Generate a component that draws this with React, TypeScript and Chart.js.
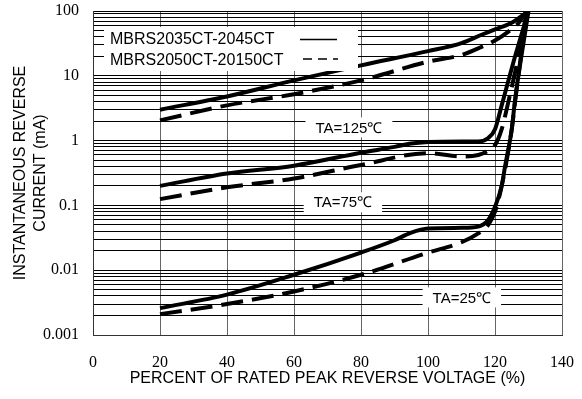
import { useEffect, useRef } from 'react';
import { Chart, registerables } from 'chart.js';

Chart.register(...registerables);

// ---- data ----
const xTicks = [0, 20, 40, 60, 80, 100, 120, 140];
const yDecades = [0.001, 0.01, 0.1, 1, 10, 100];
const yDecadeLabels = ['0.001', '0.01', '0.1', '1', '10', '100'];
const seriesNames = ['MBRS2035CT-2045CT', 'MBRS2050CT-20150CT'];
const tempLabels = ['TA=125℃', 'TA=75℃', 'TA=25℃'];
// label anchor in data coordinates (x %, y mA)
const tempLabelX = [76.4, 74.6, 110.1];
const tempLabelY = [1.6, 0.112, 0.0038];

// TA = 125 °C
const t125SolidX = [20, 40, 60, 80, 100, 110, 116, 120, 125, 130];
const t125SolidY = [3, 4.8, 8.5, 14.5, 24, 32, 43, 52, 66, 100];
const t125DashX = [20, 40, 60, 80, 100, 110, 116, 120, 124, 127, 129.5];
const t125DashY = [2.05, 3.5, 5.2, 8.5, 16.5, 21, 28, 35, 48, 65, 100];
// TA = 75 °C
const t75SolidX = [20, 40, 60, 80, 90, 95, 100, 110, 115, 118, 120, 122, 126, 130];
const t75SolidY = [0.2, 0.31, 0.41, 0.65, 0.8, 0.9, 0.95, 0.97, 0.97, 1.1, 1.5, 3.5, 20, 100];
const t75DashX = [20, 40, 60, 80, 100, 110, 115, 118, 120, 122, 124, 127, 129.5];
const t75DashY = [0.125, 0.19, 0.26, 0.42, 0.64, 0.57, 0.6, 0.7, 0.85, 1.5, 4, 20, 100];
// TA = 25 °C
const t25SolidX = [20, 40, 60, 80, 90, 95, 100, 110, 115, 118, 120, 122, 123, 125, 126, 130];
const t25SolidY = [0.0026, 0.0042, 0.0085, 0.0187, 0.029, 0.038, 0.044, 0.045, 0.047, 0.06, 0.095, 0.2, 0.4, 1.5, 4.3, 100];
const t25DashX = [20, 40, 60, 80, 100, 110, 115, 118, 120, 122, 125, 126, 129.5];
const t25DashY = [0.0021, 0.003, 0.0047, 0.0085, 0.0187, 0.027, 0.037, 0.05, 0.08, 0.2, 1.5, 4, 100];

const SANS = '"Liberation Sans", Arial, Helvetica, sans-serif';
const SERIF = '"Liberation Serif", "Times New Roman", serif';

const pts = (xs: number[], ys: number[]) => xs.map((x, i) => ({ x, y: ys[i] }));

const solid = (xs: number[], ys: number[]) => ({
  data: pts(xs, ys),
  borderColor: '#000',
  borderWidth: 4,
  pointRadius: 0,
  fill: false,
  cubicInterpolationMode: 'monotone' as const,
  borderCapStyle: 'butt' as const,
});
const dashed = (xs: number[], ys: number[]) => ({
  ...solid(xs, ys),
  borderDash: [22, 9],
});

const zeroPad = (s: any) => {
  s.paddingTop = 0;
  s.paddingBottom = 0;
  s.paddingLeft = 0;
  s.paddingRight = 0;
};

const overlayPlugin = {
  id: 'overlay',
  afterDatasetsDraw(chart: any) {
    const { ctx, chartArea, scales } = chart;
    const xs = scales.x;
    const ys = scales.y;
    ctx.save();
    // legend box
    const lx = chartArea.left + 11;
    const ly = chartArea.top + 16;
    ctx.fillStyle = '#fff';
    ctx.fillRect(lx, ly, 254, 44);
    ctx.fillStyle = '#000';
    ctx.font = `16px ${SANS}`;
    ctx.textBaseline = 'middle';
    ctx.textAlign = 'left';
    ctx.fillText(seriesNames[0], lx + 6, ly + 12.5);
    ctx.fillText(seriesNames[1], lx + 6, ly + 34);
    ctx.strokeStyle = '#000';
    ctx.lineWidth = 1.5;
    ctx.beginPath();
    ctx.moveTo(lx + 196, ly + 12.5);
    ctx.lineTo(lx + 233, ly + 12.5);
    ctx.stroke();
    ctx.setLineDash([9, 6]);
    ctx.beginPath();
    ctx.moveTo(lx + 199, ly + 32);
    ctx.lineTo(lx + 234, ly + 32);
    ctx.stroke();
    ctx.setLineDash([]);

    // temperature labels
    ctx.font = `15px ${SANS}`;
    ctx.textAlign = 'center';
    tempLabels.forEach((t, i) => {
      const cx = xs.getPixelForValue(tempLabelX[i]);
      const cy = ys.getPixelForValue(tempLabelY[i]);
      const w = ctx.measureText(t).width + 20;
      ctx.fillStyle = '#fff';
      ctx.fillRect(cx - w / 2, cy - 10, w, 20);
      ctx.fillStyle = '#000';
      ctx.fillText(t, cx, cy + 1);
    });
    ctx.restore();
  },
};

export default function App() {
  const ref = useRef<HTMLCanvasElement | null>(null);
  useEffect(() => {
    document.body.style.margin = '0';
    const canvas = ref.current;
    if (!canvas) return;
    const chart = new Chart(canvas, {
      type: 'line',
      data: {
        datasets: [
          solid(t125SolidX, t125SolidY),
          dashed(t125DashX, t125DashY),
          solid(t75SolidX, t75SolidY),
          dashed(t75DashX, t75DashY),
          solid(t25SolidX, t25SolidY),
          dashed(t25DashX, t25DashY),
        ],
      },
      options: {
        responsive: false,
        animation: false,
        events: [],
        layout: { padding: { top: 11, right: 20, left: 0, bottom: 0 } },
        plugins: { legend: { display: false }, tooltip: { enabled: false } },
        scales: {
          x: {
            type: 'linear',
            min: 0,
            max: 140,
            afterBuildTicks: (s: any) => {
              s.ticks = xTicks.map((v) => ({ value: v }));
            },
            afterFit: (s: any) => {
              s.height = 64;
              zeroPad(s);
            },
            ticks: {
              autoSkip: false,
              maxRotation: 0,
              padding: 18,
              color: '#000',
              font: { family: SERIF, size: 16 },
            },
            grid: { color: '#666', lineWidth: 1, drawTicks: false },
            border: { color: '#333', width: 1 },
            title: {
              display: true,
              text: 'PERCENT OF RATED PEAK REVERSE VOLTAGE (%)',
              color: '#000',
              font: { family: SANS, size: 16, lineHeight: 1.25 },
              padding: { top: 0, bottom: 10 },
            },
          },
          y: {
            type: 'logarithmic',
            min: 0.001,
            max: 100,
            afterBuildTicks: (s: any) => {
              const t: { value: number }[] = [];
              for (let d = 0; d < yDecades.length - 1; d++) {
                for (let m = 1; m <= 9; m++) {
                  t.push({ value: parseFloat((m * yDecades[d]).toPrecision(3)) });
                }
              }
              t.push({ value: yDecades[yDecades.length - 1] });
              s.ticks = t;
            },
            afterFit: (s: any) => {
              s.width = 93;
              zeroPad(s);
            },
            ticks: {
              autoSkip: false,
              padding: 14,
              color: '#000',
              font: { family: SERIF, size: 16 },
              callback: (v: any) => {
                const i = yDecades.findIndex((d) => Math.abs(d - Number(v)) / d < 1e-6);
                return i >= 0 ? yDecadeLabels[i] : '';
              },
            },
            grid: { color: '#000', lineWidth: 1, drawTicks: false },
            border: { color: '#333', width: 1 },
            title: {
              display: true,
              text: ['INSTANTANEOUS REVERSE', 'CURRENT (mA)'],
              color: '#000',
              font: { family: SANS, size: 16, lineHeight: 1.25 },
              padding: { top: 11, bottom: 0 },
            },
          },
        },
      },
      plugins: [overlayPlugin],
    } as any);
    return () => chart.destroy();
  }, []);
  return <canvas ref={ref} width={582} height={399} style={{ display: 'block' }} />;
}
